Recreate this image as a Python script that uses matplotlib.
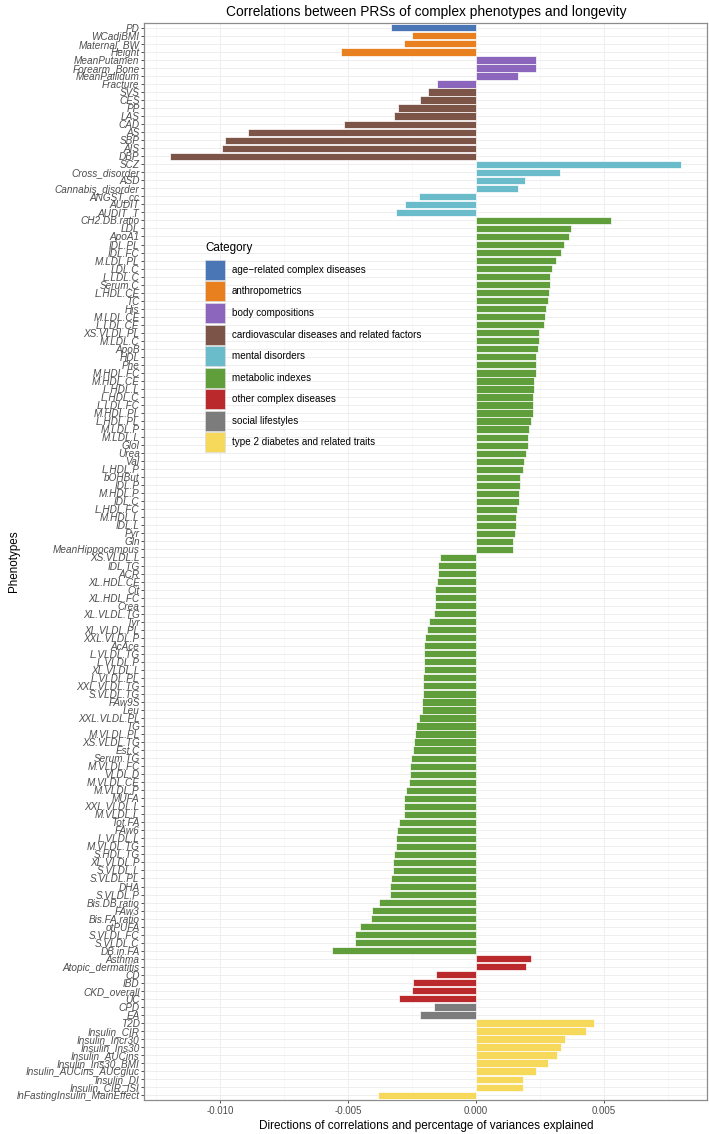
import matplotlib
matplotlib.use("Agg")
import matplotlib.pyplot as plt
from matplotlib.patches import Rectangle
from matplotlib.ticker import MultipleLocator, FixedLocator
import numpy as np

plt.rcParams['font.family'] = ['Liberation Sans', 'DejaVu Sans']
plt.rcParams['axes.unicode_minus'] = False

categories = ['age\u2212related complex diseases', 'anthropometrics', 'body compositions',
              'cardiovascular diseases and related factors', 'mental disorders',
              'metabolic indexes', 'other complex diseases', 'social lifestyles',
              'type 2 diabetes and related traits']
cat_colors = ['#4A76B6', '#E8801F', '#8B66BC', '#7C5448', '#6BBCCB',
              '#5F9E3A', '#BA2A2D', '#7C7C7C', '#F6D85A']
# number of phenotypes in each category, in plotting order
counts = [1, 3, 4, 9, 7, 92, 6, 2, 10]

phenotypes = [
    'PD',
    'WCadjBMI', 'Maternal_BW', 'Height',
    'MeanPutamen', 'Forearm_Bone', 'MeanPallidum', 'Fracture',
    'SVS', 'CES', 'PP', 'LAS', 'CAD', 'AS', 'SBP', 'AIS', 'DBP',
    'SCZ', 'Cross_disorder', 'ASD', 'Cannabis_disorder', 'ANGST_cc', 'AUDIT', 'AUDIT_T',
    'CH2.DB.ratio', 'LDL', 'ApoA1', 'IDL.PL', 'IDL.FC', 'M.LDL.PL', 'LDL.C', 'L.LDL.C',
    'Serum.C', 'L.HDL.CE', 'TC', 'His', 'M.LDL.CE', 'L.LDL.CE', 'XS.VLDL.PL', 'M.LDL.C',
    'ApoB', 'HDL', 'Phe', 'M.HDL.FC', 'M.HDL.CE', 'L.HDL.L', 'L.HDL.C', 'L.LDL.FC',
    'M.HDL.PL', 'L.HDL.PL', 'M.LDL.P', 'M.LDL.L', 'Glol', 'Urea', 'Val', 'L.HDL.P',
    'bOHBut', 'IDL.P', 'M.HDL.P', 'IDL.C', 'L.HDL.FC', 'M.HDL.L', 'IDL.L', 'Pyr', 'Gln',
    'MeanHippocampus', 'XS.VLDL.L', 'IDL.TG', 'ACR', 'XL.HDL.CE', 'Cit', 'XL.HDL.FC',
    'Crea', 'XL.VLDL.TG', 'Tyr', 'XL.VLDL.PL', 'XXL.VLDL.P', 'AcAce', 'L.VLDL.TG',
    'L.VLDL.P', 'XL.VLDL.L', 'L.VLDL.PL', 'XXL.VLDL.TG', 'S.VLDL.TG', 'FAw9S', 'Leu',
    'XXL.VLDL.PL', 'TG', 'M.VLDL.PL', 'XS.VLDL.TG', 'Est.C', 'Serum.TG', 'M.VLDL.FC',
    'VLDL.D', 'M.VLDL.CE', 'M.VLDL.P', 'MUFA', 'XXL.VLDL.L', 'M.VLDL.L', 'Tot.FA',
    'FAw6', 'L.VLDL.L', 'M.VLDL.TG', 'S.HDL.TG', 'XL.VLDL.P', 'S.VLDL.L', 'S.VLDL.PL',
    'DHA', 'S.VLDL.P', 'Bis.DB.ratio', 'FAw3', 'Bis.FA.ratio', 'otPUFA', 'S.VLDL.FC',
    'S.VLDL.C', 'DB.in.FA',
    'Asthma', 'Atopic_dermatitis', 'CD', 'IBD', 'CKD_overall', 'UC',
    'CPD', 'EA',
    'T2D', 'Insulin_CIR', 'Insulin_Incr30', 'Insulin_Ins30', 'Insulin_AUCins',
    'Insulin_Ins30_BMI', 'Insulin_AUCins_AUCgluc', 'Insulin_DI', 'Insulin_CIR_ISI',
    'lnFastingInsulin_MainEffect',
]

# values in units of 1e-3
values = [
    -3.32,
    -2.49, -2.82, -5.29,
    2.36, 2.33, 1.65, -1.54,
    -1.88, -2.18, -3.05, -3.22, -5.17, -8.92, -9.79, -9.92, -11.95,
    8.03, 3.27, 1.92, 1.65, -2.21, -2.76, -3.11,
    5.29, 3.71, 3.64, 3.43, 3.34, 3.11, 2.97, 2.91,
    2.90, 2.86, 2.81, 2.74, 2.68, 2.66, 2.45, 2.45,
    2.43, 2.34, 2.33, 2.33, 2.26, 2.27, 2.24, 2.22,
    2.22, 2.15, 2.06, 2.04, 2.02, 1.97, 1.87, 1.83,
    1.71, 1.71, 1.69, 1.67, 1.62, 1.58, 1.56, 1.53, 1.44,
    1.44, -1.40, -1.49, -1.49, -1.53, -1.58, -1.58,
    -1.60, -1.63, -1.85, -1.90, -1.99, -2.01, -2.02,
    -2.02, -2.04, -2.06, -2.06, -2.08, -2.11, -2.11,
    -2.22, -2.36, -2.38, -2.42, -2.47, -2.52, -2.58,
    -2.59, -2.61, -2.75, -2.81, -2.82, -2.82, -3.00,
    -3.07, -3.11, -3.11, -3.21, -3.23, -3.25, -3.32,
    -3.34, -3.34, -3.77, -4.07, -4.10, -4.51, -4.71,
    -4.74, -5.63,
    2.15, 1.97, -1.55, -2.45, -2.49, -3.00,
    -1.63, -2.20,
    4.60, 4.30, 3.48, 3.32, 3.16,
    2.81, 2.33, 1.83, 1.83,
    -3.82,
]

vals = np.array(values) * 1e-3
row_cat = np.repeat(np.arange(len(categories)), counts)
bar_colors = [cat_colors[c] for c in row_cat]
ypos = np.arange(len(phenotypes))

W, H = 709, 1134
fig = plt.figure(figsize=(W / 100, H / 100), dpi=100)
ax = fig.add_axes([0.2038, 0.0300, 0.7934, 0.9497])

ax.barh(ypos, vals, height=0.9, color=bar_colors, edgecolor='white', linewidth=0.5, zorder=3)

span = vals.max() - vals.min()
ax.set_xlim(vals.min() - 0.05 * span, vals.max() + 0.05 * span)
ax.set_ylim(len(phenotypes) - 0.4, -0.6)

ax.xaxis.set_major_locator(FixedLocator([-0.010, -0.005, 0.0, 0.005]))
ax.xaxis.set_minor_locator(MultipleLocator(0.0025))
ax.set_xticklabels(['-0.010', '-0.005', '0.000', '0.005'])
ax.set_yticks(ypos)
ax.set_yticklabels(phenotypes, fontstyle='italic')

ax.grid(True, which='major', color='#EBEBEB', linewidth=0.6, zorder=0)
ax.grid(True, which='minor', axis='x', color='#F4F4F4', linewidth=0.4, zorder=0)
ax.set_axisbelow(True)

ax.tick_params(axis='y', labelsize=7.2, labelcolor='#4D4D4D', length=2.5, width=0.6,
               color='#333333', pad=1)
ax.tick_params(axis='x', labelsize=7, labelcolor='#4D4D4D', length=2.5, width=0.6,
               color='#333333', pad=2)
ax.tick_params(axis='x', which='minor', length=0)
for s in ax.spines.values():
    s.set_color('#8C8C8C')
    s.set_linewidth(0.9)

ax.set_title('Correlations between PRSs of complex phenotypes and longevity',
             fontsize=9.95, pad=5)
ax.set_xlabel('Directions of correlations and percentage of variances explained',
              fontsize=8.5, labelpad=3)
ax.set_ylabel('Phenotypes', fontsize=8.4)
ax.yaxis.set_label_coords(-0.222, 0.5)

# legend drawn by hand (pixel layout of the original)
def fx(px):
    return px / W

def fy(py):
    return 1 - py / H

fig.text(fx(205), fy(248), 'Category', fontsize=8.4, va='center', ha='left')
for i, (lab, col) in enumerate(zip(categories, cat_colors)):
    yc = 270 + 21.5 * i
    fig.patches.append(Rectangle((fx(204.5), fy(yc + 10)), 20 / W, 20 / H,
                                 transform=fig.transFigure, facecolor=col,
                                 edgecolor='#DDDDDD', linewidth=0.5))
    fig.text(fx(232), fy(yc), lab, fontsize=7.1, va='center', ha='left')

fig.savefig('out.png', dpi=100)
